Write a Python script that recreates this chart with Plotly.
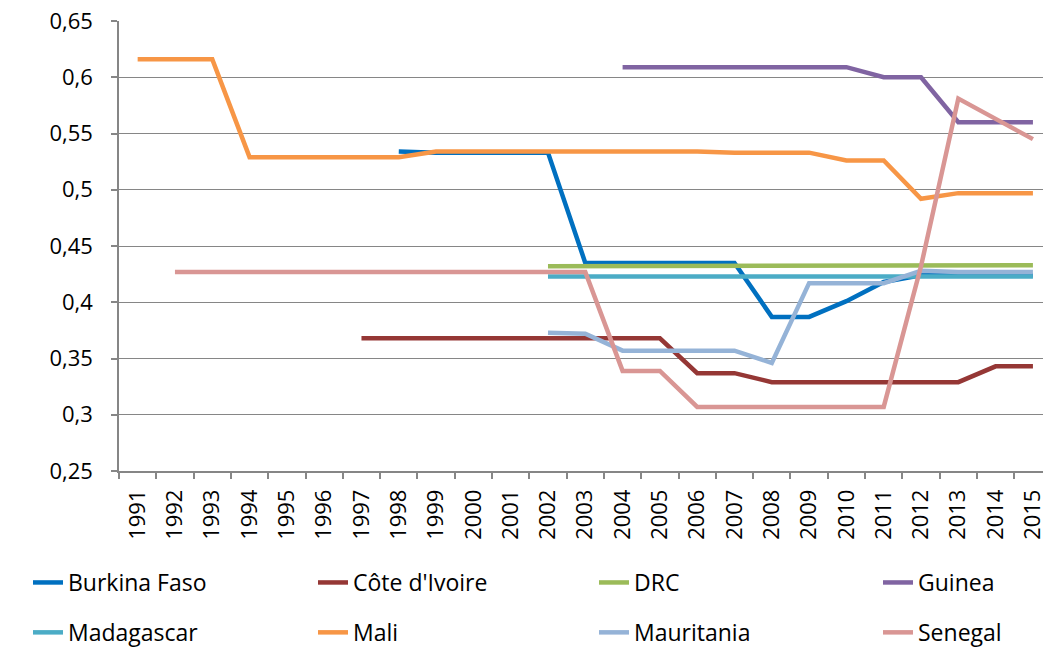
import plotly.graph_objects as go

years = list(range(1991, 2016))
N = None

burkina_faso = [N]*7 + [0.534] + [0.533]*4 + [0.435]*5 + [0.387, 0.387, 0.401, 0.418] + [0.424]*4
cote_divoire = [N]*6 + [0.368]*9 + [0.337, 0.337] + [0.329]*6 + [0.343, 0.343]
drc = [N]*11 + [0.432]*11 + [0.433]*3
guinea = [N]*13 + [0.609]*7 + [0.600, 0.600] + [0.560]*3
madagascar = [N]*11 + [0.423]*14
mali = [0.616]*3 + [0.529]*5 + [0.534]*8 + [0.533]*3 + [0.526]*2 + [0.492] + [0.497]*3
mauritania = [N]*11 + [0.373, 0.372] + [0.357]*4 + [0.346] + [0.417]*3 + [0.428] + [0.427]*3
senegal = [N] + [0.427]*12 + [0.339, 0.339] + [0.307]*6 + [0.432, 0.581, 0.563, 0.545]

# legend column = one legend box per column of the reference legend
series = [
    ("Burkina Faso", burkina_faso, "#0070C0", "legend"),
    ("Côte d'Ivoire", cote_divoire, "#953735", "legend2"),
    ("DRC", drc, "#9BBB59", "legend3"),
    ("Guinea", guinea, "#8064A2", "legend4"),
    ("Madagascar", madagascar, "#4BACC6", "legend"),
    ("Mali", mali, "#F79646", "legend2"),
    ("Mauritania", mauritania, "#95B3D7", "legend3"),
    ("Senegal", senegal, "#D99694", "legend4"),
]

y_ticks = [0.25, 0.3, 0.35, 0.4, 0.45, 0.5, 0.55, 0.6, 0.65]
y_labels = ["0,25", "0,3", "0,35", "0,4", "0,45", "0,5", "0,55", "0,6", "0,65"]

fig = go.Figure()
for name, vals, color, leg in series:
    fig.add_trace(go.Scatter(
        x=years, y=vals, name=name, mode="lines",
        line=dict(color=color, width=4.5),
        legend=leg, legendgroup=name,
    ))

grey = "#868686"
tick_font = dict(family="Open Sans", size=22, color="#000000")
leg_font = dict(family="Open Sans", size=23, color="#000000")

legend_cols = [28, 313, 594, 878]
legends = {}
for i, lx in enumerate(legend_cols):
    key = "legend" if i == 0 else "legend%d" % (i + 1)
    legends[key] = dict(
        orientation="v", xref="container", yref="container",
        x=lx / 1043, y=1 - 561 / 648, xanchor="left", yanchor="top",
        font=leg_font, bgcolor="rgba(0,0,0,0)", tracegroupgap=17,
        itemwidth=30,
    )

fig.update_layout(
    width=1043, height=648,
    margin=dict(l=119, r=0, t=21, b=177, autoexpand=False),
    plot_bgcolor="white", paper_bgcolor="white",
    font=tick_font,
    xaxis=dict(
        range=[1990.5, 2015.27],
        tickvals=years, ticktext=[str(y) for y in years],
        tickangle=-90, ticks="", showgrid=False, automargin=False,
        showline=True, linecolor=grey, linewidth=1.5,
        tickfont=tick_font, ticklabelstandoff=8, ticklabeloverflow="allow",
        minor=dict(ticks="outside", ticklen=6, tickcolor=grey, tickwidth=1.5,
                   tick0=1990.5, dtick=1, showgrid=False),
        zeroline=False,
    ),
    yaxis=dict(
        range=[0.25, 0.65], automargin=False,
        tickvals=y_ticks, ticktext=y_labels,
        ticks="outside", ticklen=6, tickcolor=grey, tickwidth=1.5,
        showgrid=True, gridcolor=grey, gridwidth=1.3,
        showline=True, linecolor=grey, linewidth=1.5,
        tickfont=tick_font, ticklabelstandoff=14, zeroline=False,
    ),
    **legends,
)

fig.write_html("out.html", config={"displayModeBar": False},
               post_script="document.body.style.margin='0px';")
